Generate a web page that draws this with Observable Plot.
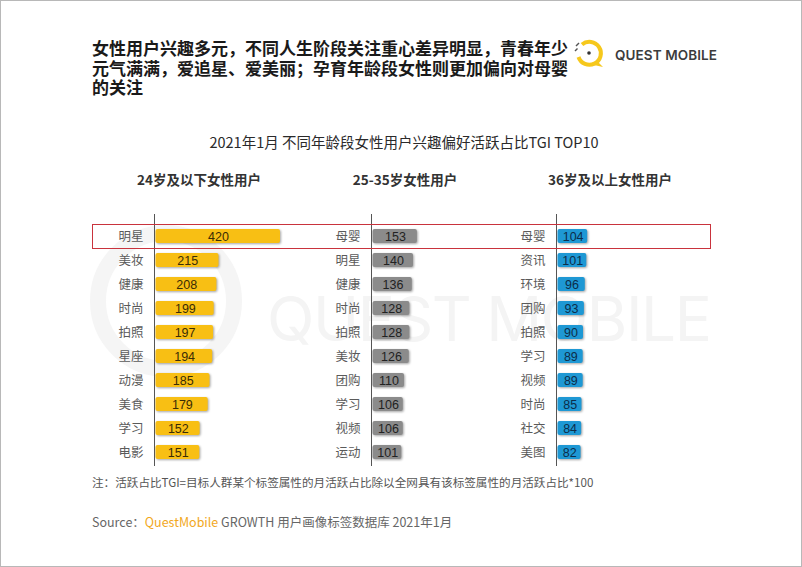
<!DOCTYPE html>
<html>
<head>
<meta charset="utf-8">
<script src="https://cdn.jsdelivr.net/npm/d3@7"></script>
<script src="https://cdn.jsdelivr.net/npm/@observablehq/plot@0.6"></script>
<style>
  html, body { margin: 0; padding: 0; background: #fff; }
  #page { position: relative; width: 802px; height: 567px; box-sizing: border-box; border: 1px solid #b8b8b8; overflow: hidden; background: #fff; font-family: "Noto Sans CJK SC", "Noto Sans", sans-serif; }
  .abs { position: absolute; white-space: nowrap; }
  .panel svg { overflow: visible; }
  .panel g[aria-label="bar"] rect { filter: drop-shadow(1.5px 1.5px 1px rgba(0,0,0,0.35)); }
</style>
</head>
<body>
<div id="page">
  <!-- watermark -->
  <svg class="abs" style="left:0;top:0" width="802" height="567">
    <circle cx="165" cy="300" r="68" fill="none" stroke="#f5f5f5" stroke-width="16"/>
    <text x="266" y="340" font-family="Inter, 'Liberation Sans', sans-serif" font-size="62" fill="#f4f4f4" textLength="445">QUEST MOBILE</text>
  </svg>

  <div class="abs" style="left:91px;top:37px;font-size:17px;font-weight:bold;line-height:19.5px;color:#1a1a1a;">女性用户兴趣多元，不同人生阶段关注重心差异明显，青春年少<br>元气满满，爱追星、爱美丽；孕育年龄段女性则更加偏向对母婴<br>的关注</div>

  <!-- logo -->
  <svg class="abs" style="left:572px;top:36px" width="34" height="34" viewBox="0 0 34 34">
    <path d="M 9 7.5 A 11.5 11.5 0 1 1 5.5 20" fill="none" stroke="#f6c81c" stroke-width="4"/>
    <path d="M 24 24 L 30 30 L 21 28 Z" fill="#f6c81c"/>
    <circle cx="16" cy="16" r="1.8" fill="#333"/>
    <line x1="3" y1="9" x2="6" y2="6" stroke="#555" stroke-width="1.5"/>
    <line x1="2" y1="14" x2="4.5" y2="11.5" stroke="#555" stroke-width="1.5"/>
  </svg>
  <div class="abs" style="left:614px;top:46px;font-family:Inter, 'Liberation Sans', sans-serif;font-size:13.5px;font-weight:600;color:#3c3c3c;letter-spacing:0.1px;">QUEST MOBILE</div>

  <div class="abs" style="left:403px;top:130px;transform:translateX(-50%);font-size:14.5px;color:#2a2a2a;">2021年1月 不同年龄段女性用户兴趣偏好活跃占比TGI TOP10</div>

  <div class="abs" id="h1" style="left:198px;top:168px;transform:translateX(-50%);font-size:13.5px;font-weight:bold;color:#333;"></div>
  <div class="abs" id="h2" style="left:404px;top:168px;transform:translateX(-50%);font-size:13.5px;font-weight:bold;color:#333;"></div>
  <div class="abs" id="h3" style="left:609px;top:168px;transform:translateX(-50%);font-size:13.5px;font-weight:bold;color:#333;"></div>

  <div class="abs panel" id="p1" style="left:83px;top:210px;"></div>
  <div class="abs panel" id="p2" style="left:300px;top:210px;"></div>
  <div class="abs panel" id="p3" style="left:485px;top:210px;"></div>

  <div class="abs" style="left:91px;top:223px;width:619px;height:25px;box-sizing:border-box;border:1.3px solid #c9333d;"></div>

  <div class="abs" id="note" style="left:91px;top:473px;font-size:11.6px;color:#555;"></div>
  <div class="abs" style="left:91px;top:511px;font-size:12.5px;color:#666;">Source：<span style="color:#f2a81d;">QuestMobile</span> GROWTH 用户画像标签数据库 2021年1月</div>
</div>

<script>
// ---- data ----
const panelTitles = ["24岁及以下女性用户", "25-35岁女性用户", "36岁及以上女性用户"];

const cats1 = ["明星", "美妆", "健康", "时尚", "拍照", "星座", "动漫", "美食", "学习", "电影"];
const vals1 = [420, 215, 208, 199, 197, 194, 185, 179, 152, 151];

const cats2 = ["母婴", "明星", "健康", "时尚", "拍照", "美妆", "团购", "学习", "视频", "运动"];
const vals2 = [153, 140, 136, 128, 128, 126, 110, 106, 106, 101];

const cats3 = ["母婴", "资讯", "环境", "团购", "拍照", "学习", "视频", "时尚", "社交", "美图"];
const vals3 = [104, 101, 96, 93, 90, 89, 89, 85, 84, 82];

const panelColors = ["#f8bf14", "#8b8b8b", "#1e98d4"];
const valueColors = ["#3a2c05", "#222222", "#0c2d4a"];

const noteText = "注：活跃占比TGI=目标人群某个标签属性的月活跃占比除以全网具有该标签属性的月活跃占比*100";

// ---- drawing ----
document.getElementById("h1").textContent = panelTitles[0];
document.getElementById("h2").textContent = panelTitles[1];
document.getElementById("h3").textContent = panelTitles[2];
document.getElementById("note").textContent = noteText;

function panel(cats, vals, color, textColor) {
  const data = cats.map((c, i) => ({cat: c, v: vals[i]}));
  return Plot.plot({
    width: 210,
    height: 258,
    marginLeft: 70,
    marginRight: 5,
    marginTop: 13,
    marginBottom: 5,
    x: {domain: [0, 450], axis: null},
    y: {domain: cats, axis: null, paddingInner: 0.42, paddingOuter: 0.21},
    style: {background: "transparent", fontFamily: "'Noto Sans CJK SC', sans-serif", overflow: "visible"},
    marks: [
      Plot.barX(data, {x: "v", y: "cat", fill: color, rx: 2, insetLeft: 1.5}),
      Plot.ruleX([0], {stroke: "#555", strokeWidth: 1, insetTop: -10, insetBottom: -2}),
      Plot.text(data, {x: 0, y: "cat", text: "cat", textAnchor: "end", dx: -11, fontSize: 12.5, fill: "#5a5a5a"}),
      Plot.text(data, {x: d => d.v / 2, y: "cat", text: d => String(d.v), fontSize: 12.5, fill: textColor, fontFamily: "'Liberation Sans', Arial, sans-serif", dx: 1})
    ]
  });
}

document.getElementById("p1").appendChild(panel(cats1, vals1, panelColors[0], valueColors[0]));
document.getElementById("p2").appendChild(panel(cats2, vals2, panelColors[1], valueColors[1]));
document.getElementById("p3").appendChild(panel(cats3, vals3, panelColors[2], valueColors[2]));
</script>
</body>
</html>
